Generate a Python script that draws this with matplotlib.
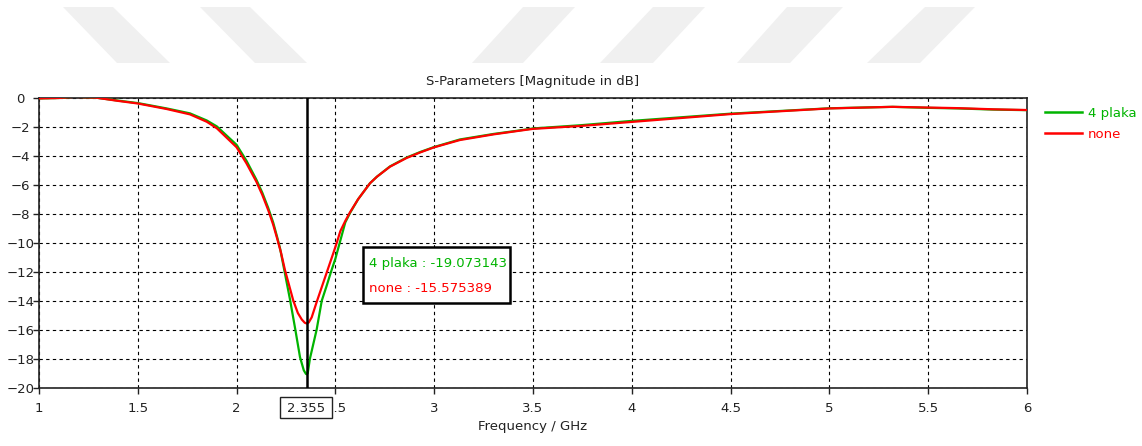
import matplotlib
matplotlib.use("Agg")
import matplotlib.pyplot as plt
from matplotlib.patches import Polygon, Rectangle

plt.rcParams['font.family'] = ['DejaVu Sans']

W, H = 1142, 446

# S11 curves, frequency in GHz, magnitude in dB
f_plaka = [1.0, 1.1, 1.18, 1.29, 1.4, 1.5, 1.646, 1.764, 1.849, 1.9, 2.0, 2.05, 2.1, 2.13,
           2.16, 2.185, 2.205, 2.22, 2.24, 2.27, 2.296, 2.321, 2.34, 2.351, 2.355, 2.36,
           2.371, 2.405, 2.431, 2.455, 2.478, 2.5, 2.52, 2.55, 2.574, 2.615, 2.675, 2.71,
           2.776, 2.86, 2.93, 3.0, 3.13, 3.3, 3.43, 3.5, 3.74, 4.0, 4.25, 4.5, 5.0, 5.32,
           5.5, 5.65, 5.83, 6.0]
s_plaka = [-0.05, -0.02, 0.07, 0.0, -0.2, -0.37, -0.74, -1.08, -1.57, -1.98, -3.25, -4.35,
           -5.65, -6.55, -7.6, -8.6, -9.6, -10.4, -11.8, -13.9, -15.9, -17.9, -18.8, -19.05,
           -19.073143, -19.0, -18.0, -16.0, -14.0, -13.0, -12.0, -11.1, -10.1, -8.6, -7.95,
           -7.0, -5.9, -5.45, -4.74, -4.13, -3.74, -3.4, -2.88, -2.5, -2.26, -2.12, -1.9,
           -1.6, -1.35, -1.1, -0.73, -0.63, -0.7, -0.74, -0.82, -0.86]

f_none = [1.0, 1.1, 1.18, 1.29, 1.4, 1.5, 1.646, 1.764, 1.849, 1.9, 2.0, 2.05, 2.1, 2.13,
          2.16, 2.185, 2.205, 2.225, 2.245, 2.287, 2.31, 2.33, 2.345, 2.355, 2.365, 2.38,
          2.405, 2.435, 2.465, 2.49, 2.507, 2.525, 2.55, 2.574, 2.615, 2.675, 2.71, 2.776,
          2.86, 2.93, 3.0, 3.13, 3.3, 3.43, 3.5, 3.74, 4.0, 4.25, 4.5, 5.0, 5.32, 5.5, 5.65,
          5.83, 6.0]
s_none = [-0.05, -0.02, 0.06, 0.0, -0.22, -0.4, -0.78, -1.15, -1.66, -2.11, -3.42, -4.53,
          -5.79, -6.7, -7.75, -8.75, -9.7, -10.7, -11.9, -14.0, -14.85, -15.3, -15.52,
          -15.575389, -15.5, -15.15, -14.1, -12.9, -11.7, -10.7, -10.0, -9.2, -8.5, -7.9,
          -7.0, -5.9, -5.45, -4.76, -4.16, -3.77, -3.42, -2.92, -2.53, -2.28, -2.15, -1.95,
          -1.67, -1.4, -1.13, -0.74, -0.63, -0.68, -0.72, -0.8, -0.85]

marker_f = 2.355
marker_plaka = -19.073143
marker_none = -15.575389

x_ticks = [1, 1.5, 2, 2.5, 3, 3.5, 4, 4.5, 5, 5.5, 6]
x_labels = ["1", "1.5", "2", "2.5", "3", "3.5", "4", "4.5", "5", "5.5", "6"]
y_ticks = list(range(0, -21, -2))

GREEN = "#00b400"
RED = "#ff0000"
INK = "#222222"

fig = plt.figure(figsize=(W / 100, H / 100), dpi=100)

# light grey slanted bands along the top edge (pixel corners: top-left, top-right, bottom-right, bottom-left)
bands = [
    [(63, 7), (113, 7), (170, 63), (117, 63)],
    [(200, 7), (250, 7), (307, 63), (255, 63)],
    [(523, 7), (575, 7), (523, 63), (472, 63)],
    [(653, 7), (705, 7), (653, 63), (600, 63)],
    [(787, 7), (843, 7), (790, 63), (737, 63)],
    [(925, 7), (975, 7), (920, 63), (867, 63)],
]
for b in bands:
    pts = [(x / W, 1 - y / H) for x, y in b]
    fig.patches.append(Polygon(pts, closed=True, transform=fig.transFigure,
                               facecolor="#f0f0f0", edgecolor="none", zorder=0))

x0, x1, yt, yb = 39, 1027, 97.7, 387.7
ax = fig.add_axes([x0 / W, 1 - yb / H, (x1 - x0) / W, (yb - yt) / H])
ax.patch.set_alpha(0)

ax.plot(f_plaka, s_plaka, color=GREEN, lw=1.6, label="4 plaka", zorder=3)
ax.plot(f_none, s_none, color=RED, lw=1.6, label="none", zorder=3)
ax.axvline(marker_f, color="black", lw=1.8, zorder=4)

ax.set_xlim(1, 6)
ax.set_ylim(-20, 0)
ax.set_xticks(x_ticks)
ax.set_xticklabels(x_labels)
ax.set_yticks(y_ticks)
ax.grid(True, color="black", linestyle=(0, (3, 3)), linewidth=0.8)
ax.tick_params(direction="out", length=4, width=1, labelsize=9.5, colors=INK)
ax.tick_params(axis="x", pad=6)
ax.tick_params(axis="y", pad=9.5)
for lab in ax.get_yticklabels():
    lab.set_horizontalalignment("center")
for sp in ax.spines.values():
    sp.set_color(INK)
    sp.set_linewidth(1.2)

ax.set_title("S-Parameters [Magnitude in dB]", fontsize=9.5, pad=9, color=INK)
ax.set_xlabel("Frequency / GHz", fontsize=9.5, labelpad=4, color=INK)

leg = ax.legend(loc="upper left", bbox_to_anchor=(1.009, 1.0), frameon=False,
                fontsize=9.5, handlelength=2.8, handletextpad=0.45, labelspacing=0.6,
                borderaxespad=0.3)
for line in leg.get_lines():
    line.set_linewidth(1.8)
for txt, c in zip(leg.get_texts(), [GREEN, RED]):
    txt.set_color(c)

# marker readout box
fig.patches.append(Rectangle((363 / W, 1 - 303 / H), (510 - 363) / W, (303 - 247) / H,
                             transform=fig.transFigure, facecolor="white",
                             edgecolor="black", linewidth=1.8, zorder=5))
fig.text(369 / W, 1 - 263 / H, f"4 plaka : {marker_plaka:.6f}", color=GREEN,
         fontsize=9.5, va="center", ha="left", zorder=6)
fig.text(369 / W, 1 - 288 / H, f"none : {marker_none:.6f}", color=RED,
         fontsize=9.5, va="center", ha="left", zorder=6)

# frequency readout at the marker, covering part of the tick label below it
fig.patches.append(Rectangle((280 / W, 1 - 418 / H), (332 - 280) / W, (418 - 397) / H,
                             transform=fig.transFigure, facecolor="white",
                             edgecolor=INK, linewidth=1, zorder=5))
fig.text(306 / W, 1 - 408 / H, f"{marker_f:.3f}", fontsize=9.5, ha="center", va="center",
         color=INK, zorder=6)

fig.savefig("out.png", dpi=100)
